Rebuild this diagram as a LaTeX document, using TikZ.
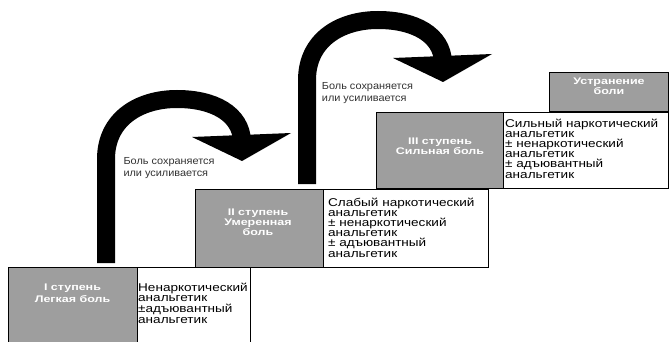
\documentclass[tikz,border=0pt]{standalone}
\usepackage{fontspec}
\setmainfont{Liberation Sans}
\newfontfamily\bodyfont[FakeStretch=1.2]{Liberation Sans}
\newfontfamily\labfont[FakeStretch=1.07]{Liberation Sans}
\newfontfamily\stepfont[FakeStretch=1.3]{Liberation Sans}
\definecolor{stepgrey}{HTML}{9E9E9E}
\definecolor{labgrey}{HTML}{333333}
\tikzset{
  greybox/.style={draw=black, line width=0.8pt, fill=stepgrey, anchor=north west, inner sep=0pt, outer sep=0pt},
  whitebox/.style={draw=black, line width=0.8pt, fill=white, anchor=north west, inner sep=0pt, outer sep=0pt},
  steptext/.style={text=white, font=\stepfont\bfseries\fontsize{9.6}{11}\selectfont, inner sep=0pt, anchor=base},
  drugtext/.style={text=black, font=\bodyfont\fontsize{11.3}{11}\selectfont, inner sep=0pt, anchor=base west},
  labtext/.style={text=labgrey, font=\labfont\fontsize{10.2}{12}\selectfont, inner sep=0pt, anchor=base west},
  stairarrow/.pic={
    \draw[line width=18pt, black] (0,0) -- (0,-104)
      .. controls (0,-144) and (33,-164) .. (71,-164)
      .. controls (108,-164) and (135,-149) .. (136,-122);
    \fill[black] (86,-126) -- (136,-102) -- (185,-130) -- cycle;
  }
}
\begin{document}
\begin{tikzpicture}[x=1pt,y=-1pt]
\useasboundingbox (0,0) rectangle (671,342);
\fill[white] (0,0) rectangle (671,342);

% arrows
\coordinate (a1) at (106,263);
\coordinate (a2) at (307,184);
\pic (arrA) at (a1) {stairarrow};
\pic (arrB) at (a2) {stairarrow};

% boxes
\node[greybox, minimum width=129, minimum height=80] (g1) at (8,267) {};
\node[whitebox, minimum width=113, minimum height=80] (w1) at (137,267) {};
\node[greybox, minimum width=128, minimum height=78] (g2) at (195,189) {};
\node[whitebox, minimum width=165, minimum height=78] (w2) at (323,189) {};
\node[greybox, minimum width=127, minimum height=76] (g3) at (376,112) {};
\node[whitebox, minimum width=165, minimum height=76] (w3) at (503,112) {};
\node[greybox, minimum width=119, minimum height=39] (g4) at (549,72) {};

% step labels
\node[steptext] (s1a) at (72.5,290) {I ступень};
\node[steptext] (s1b) at (72.5,302.7) {Легкая боль};
\node[steptext] (s2a) at (258,215) {II ступень};
\node[steptext] (s2b) at (258,225.7) {Умеренная};
\node[steptext] (s2c) at (258,235.5) {боль};
\node[steptext] (s3a) at (440,144.3) {III ступень};
\node[steptext] (s3b) at (440,154) {Сильная боль};
\node[steptext] (s4a) at (609,85) {Устранение};
\node[steptext] (s4b) at (609,95) {боли};

% drug texts
\foreach \t [count=\i from 0] in {Ненаркотический, анальгетик, ±адъювантный, анальгетик}
  \node[drugtext] (d1-\i) at (138,291+10.7*\i) {\t};
\foreach \t [count=\i from 0] in {Слабый наркотический, анальгетик, ± ненаркотический, анальгетик, ± адъювантный, анальгетик}
  \node[drugtext] (d2-\i) at (328,206+10.2*\i) {\t};
\foreach \t [count=\i from 0] in {Сильный наркотический, анальгетик, ± ненаркотический, анальгетик, ± адъювантный, анальгетик}
  \node[drugtext] (d3-\i) at (505,127.5+10.1*\i) {\t};

% arrow labels
\node[labtext] (l1a) at (123.3,164) {Боль сохраняется};
\node[labtext] (l1b) at (123.3,176) {или усиливается};
\node[labtext] (l2a) at (321.7,90) {Боль сохраняется};
\node[labtext] (l2b) at (321.7,102) {или усиливается};
\end{tikzpicture}
\end{document}
